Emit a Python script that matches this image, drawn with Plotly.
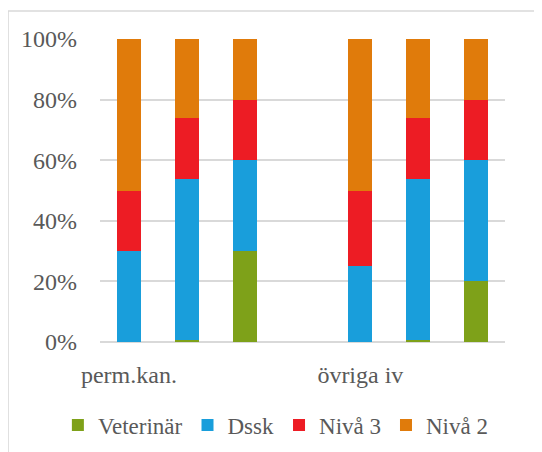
import plotly.graph_objects as go

# Slot positions on the x axis (slot 3 is an empty gap between the groups)
slots = [0, 1, 2, 4, 5, 6]
group_ticks = [0, 4]
group_labels = ["perm.kan.", "övriga iv"]

# y axis ticks
pct_ticks = [0, 20, 40, 60, 80, 100]
pct_labels = ["0%", "20%", "40%", "60%", "80%", "100%"]

# Share of each level per bar, in percent
veterinar = [0, 0.7, 30, 0, 0.7, 20]
dssk = [30, 53.0, 30, 25, 53.0, 40]
niva3 = [20, 20.3, 20, 25, 20.3, 20]
niva2 = [50, 26.0, 20, 50, 26.0, 20]

series = [
    ("Veterinär", veterinar, "#7EA119"),
    ("Dssk", dssk, "#199EDB"),
    ("Nivå 3", niva3, "#ED1C24"),
    ("Nivå 2", niva2, "#E07B0B"),
]

serif = "Liberation Serif"
text_grey = "#595959"
grid = "#D9D9D9"


def make_font(size=24):
    return dict(family=serif, size=size, color=text_grey)


fig = go.Figure()
for name, values, color in series:
    fig.add_trace(go.Bar(x=slots, y=values, name=name, marker=dict(color=color, line_width=0), width=0.414))

# the page puts the figure 8px in from the top-left corner, so it is sized 8px smaller
fig.update_layout(
    barmode="stack",
    width=534,
    height=444,
    margin=dict(l=92, r=37, t=31, b=110, autoexpand=False),
    paper_bgcolor="white",
    plot_bgcolor="white",
    font=make_font(),
    showlegend=True,
    # left of and below the plot area so the legend may use the full width in one row
    legend=dict(
        orientation="h",
        x=-0.104,
        xanchor="left",
        y=-0.274,
        yanchor="middle",
        font=make_font(23),
        traceorder="normal",
    ),
    xaxis=dict(
        range=[-0.5, 6.5],
        tickvals=group_ticks,
        ticktext=group_labels,
        tickfont=make_font(),
        showgrid=False,
        zeroline=False,
        showline=False,
        ticks="",
        ticklabelstandoff=16,
        fixedrange=True,
    ),
    yaxis=dict(
        range=[0, 100],
        tickvals=pct_ticks,
        ticktext=pct_labels,
        tickfont=make_font(),
        showgrid=True,
        gridcolor=grid,
        gridwidth=1.5,
        zeroline=True,
        zerolinecolor=grid,
        zerolinewidth=1.5,
        ticks="",
        ticklabelstandoff=22,
    ),
    shapes=[
        dict(
            type="rect",
            xref="paper",
            yref="paper",
            x0=-0.227,
            x1=1.2,
            y0=-0.5,
            y1=1.092,
            line=dict(color=grid, width=1.5),
            fillcolor="rgba(0,0,0,0)",
            layer="below",
        )
    ],
)

fig.write_html("out.html")
